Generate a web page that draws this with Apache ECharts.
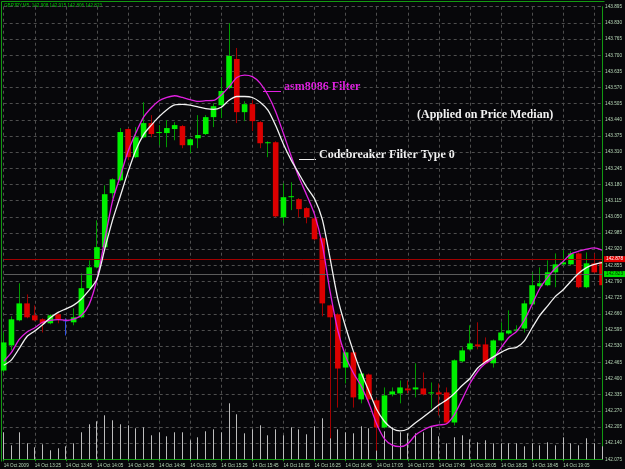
<!DOCTYPE html>
<html><head><meta charset="utf-8">
<script src="https://cdn.jsdelivr.net/npm/echarts@6/dist/echarts.min.js"></script>
<style>html,body{margin:0;padding:0;background:#07070a;}#chart{width:625px;height:469px;}</style>
</head><body><div id="chart"></div>
<script>
const SYMBOL = "GBPJPY,M5";
const HEADER_OHLC = [142.908, 142.915, 142.806, 142.823];
const DAY = "14 Oct";
const YEAR = "2009";
const times = ["13:05","13:10","13:15","13:20","13:25","13:30","13:35","13:40","13:45","13:50","13:55",
 "14:00","14:05","14:10","14:15","14:20","14:25","14:30","14:35","14:40","14:45","14:50","14:55",
 "15:00","15:05","15:10","15:15","15:20","15:25","15:30","15:35","15:40","15:45","15:50","15:55",
 "16:00","16:05","16:10","16:15","16:20","16:25","16:30","16:35","16:40","16:45","16:50","16:55",
 "17:00","17:05","17:10","17:15","17:20","17:25","17:30","17:35","17:40","17:45","17:50","17:55",
 "18:00","18:05","18:10","18:15","18:20","18:25","18:30","18:35","18:40","18:45","18:50","18:55",
 "19:00","19:05","19:10","19:15","19:20","19:25","19:30"];
const open = [142.432,142.533,142.634,142.702,142.654,142.638,142.622,142.658,142.634,142.626,
 142.646,142.763,142.847,142.928,143.145,143.197,143.403,143.290,143.370,143.427,
 143.387,143.387,143.403,143.415,143.338,143.366,143.383,143.451,143.499,143.568,
 143.685,143.471,143.503,143.431,143.346,143.350,143.048,143.129,143.121,143.085,
 143.044,142.964,142.694,142.658,142.444,142.505,142.316,142.416,142.312,142.203,
 142.336,142.340,142.360,142.356,142.360,142.340,142.344,142.344,142.223,142.469,
 142.517,142.537,142.537,142.461,142.553,142.581,142.593,142.601,142.698,142.771,
 142.775,142.827,142.859,142.859,142.903,142.767,142.863,142.871];
const close = [142.545,142.638,142.702,142.646,142.634,142.622,142.654,142.638,142.634,142.646,
 142.763,142.847,142.928,143.141,143.201,143.391,143.290,143.370,143.427,143.383,
 143.391,143.407,143.419,143.338,143.362,143.379,143.451,143.495,143.556,143.697,
 143.471,143.503,143.435,143.346,143.350,143.052,143.129,143.133,143.081,143.048,
 142.960,142.702,142.646,142.440,142.505,142.324,142.420,142.316,142.203,142.332,
 142.348,142.364,142.352,142.364,142.336,142.344,142.336,142.223,142.473,142.513,
 142.541,142.529,142.461,142.553,142.585,142.593,142.597,142.702,142.775,142.783,
 142.827,142.859,142.867,142.903,142.767,142.863,142.827,142.775];
const high = [142.585,142.650,142.783,142.738,142.694,142.642,142.658,142.662,142.642,142.682,
 142.823,142.875,143.036,143.177,143.205,143.407,143.407,143.411,143.511,143.459,
 143.419,143.439,143.431,143.419,143.366,143.459,143.459,143.507,143.612,143.829,
 143.729,143.515,143.519,143.435,143.354,143.354,143.185,143.189,143.125,143.089,
 143.048,142.968,142.698,142.662,142.509,142.509,142.424,142.420,142.320,142.364,
 142.364,142.392,142.392,142.461,142.424,142.384,142.380,142.364,142.477,142.525,
 142.614,142.626,142.565,142.557,142.626,142.674,142.614,142.714,142.827,142.847,
 142.875,142.903,142.916,142.912,142.907,142.907,142.903,142.895];
const low = [142.424,142.513,142.630,142.642,142.630,142.585,142.618,142.622,142.573,142.614,
 142.642,142.759,142.843,142.924,143.125,143.193,143.278,143.286,143.366,143.370,
 143.338,143.330,143.358,143.326,143.306,143.326,143.379,143.411,143.447,143.564,
 143.427,143.435,143.395,143.326,143.290,143.048,143.024,143.077,143.048,143.024,
 142.956,142.650,142.159,142.283,142.380,142.283,142.300,142.304,142.110,142.199,
 142.328,142.300,142.340,142.324,142.332,142.279,142.251,142.219,142.211,142.465,
 142.513,142.517,142.457,142.444,142.549,142.577,142.589,142.585,142.694,142.767,
 142.771,142.767,142.855,142.855,142.763,142.763,142.823,142.771];
const volume = [135,70,135,80,60,75,45,55,65,80,
 135,175,190,220,195,175,170,155,160,120,
 135,115,135,135,95,110,140,150,135,280,
 225,130,150,170,120,150,120,160,150,125,
 165,205,180,150,135,130,165,155,130,140,
 160,135,130,130,135,160,115,80,110,120,
 100,85,95,80,80,80,80,65,80,70,
 85,70,110,80,70,105,80,65];
const asmFilter = [142.469,142.505,142.557,142.587,142.604,142.626,142.634,142.637,142.634,142.639,
 142.654,142.698,142.799,142.956,143.113,143.213,143.313,143.387,143.451,143.489,
 143.517,143.530,143.537,143.530,143.521,143.514,143.517,143.518,143.540,143.573,
 143.610,143.620,143.614,143.588,143.540,143.473,143.385,143.294,143.209,143.137,
 143.060,142.938,142.750,142.593,142.489,142.422,142.370,142.300,142.217,142.157,
 142.132,142.126,142.137,142.173,142.193,142.207,142.213,142.218,142.255,142.316,
 142.380,142.428,142.461,142.481,142.523,142.565,142.589,142.634,142.698,142.763,
 142.807,142.843,142.871,142.901,142.912,142.920,142.925,142.916];
const codebreaker = [142.453,142.475,142.521,142.569,142.591,142.616,142.644,142.666,142.680,142.695,
 142.720,142.755,142.799,142.920,143.036,143.133,143.231,143.318,143.381,143.419,
 143.453,143.481,143.500,143.502,143.499,143.492,143.485,143.482,143.491,143.519,
 143.534,143.534,143.530,143.511,143.479,143.417,143.342,143.278,143.223,143.169,
 143.123,143.040,142.883,142.720,142.607,142.509,142.424,142.349,142.275,142.227,
 142.199,142.189,142.197,142.222,142.245,142.269,142.294,142.314,142.340,142.372,
 142.400,142.442,142.467,142.487,142.505,142.520,142.525,142.551,142.604,142.654,
 142.692,142.730,142.757,142.791,142.823,142.846,142.859,142.866];
const BID = 142.823;
const ASK = 142.878;
const PRICE_MIN = 142.075, PRICE_MAX = 143.895, PRICE_STEP = 0.065;
const VOL_MAX = 2263;

const GREEN_AXIS = '#129a12';
const LABEL = '#b8d8b8';
const GRID = '#4e4e4e';

const candleData = times.map((t, i) => [i, open[i], close[i], low[i], high[i]]);

function renderCandle(params, api) {
  const i = api.value(0);
  const o = api.value(1), c = api.value(2), l = api.value(3), h = api.value(4);
  const pO = api.coord([i, o]), pC = api.coord([i, c]);
  const pL = api.coord([i, l]), pH = api.coord([i, h]);
  const cs = params.coordSys;
  const rightEdge = cs.x + cs.width;
  const cx = pO[0];
  const w = 5.6;
  let body, wick;
  if (c > o) { body = '#00f000'; wick = '#009a00'; }
  else if (c < o) { body = '#dc0000'; wick = '#a00000'; }
  else { body = '#3050e0'; wick = '#3050e0'; }
  const clip = { x: 0, y: 0, width: rightEdge, height: api.getHeight() };
  const top = Math.min(pO[1], pC[1]);
  const hgt = Math.max(Math.abs(pO[1] - pC[1]), 1);
  const rect = echarts.graphic.clipRectByRect({ x: cx - w / 2, y: top, width: w, height: hgt }, clip);
  const children = [];
  const wx = Math.floor(cx) + 0.5;
  if (wx <= rightEdge) {
    children.push({ type: 'line', shape: { x1: wx, y1: pH[1], x2: wx, y2: pL[1] }, style: { stroke: wick, lineWidth: 1 } });
  }
  if (rect) children.push({ type: 'rect', shape: rect, style: { fill: body } });
  return { type: 'group', children };
}

function renderVolume(params, api) {
  const p = api.coord([api.value(0), api.value(1)]);
  const base = api.coord([api.value(0), 0]);
  const x = Math.floor(p[0]) + 0.5;
  return { type: 'line', shape: { x1: x, y1: p[1], x2: x, y2: base[1] }, style: { stroke: '#bdbdbd', lineWidth: 1 } };
}

const chart = echarts.init(document.getElementById('chart'), null, { renderer: 'canvas' });
const tiny = { fontFamily: 'Liberation Sans', color: LABEL };

chart.setOption({
  animation: false,
  backgroundColor: '#07070a',
  grid: { left: 3.7, right: 20.5, top: 6.7, bottom: 9.7 },
  xAxis: {
    type: 'category', data: times, boundaryGap: false,
    offset: 2,
    axisLine: { show: true, lineStyle: { color: GREEN_AXIS, width: 1 } },
    axisTick: { show: true, interval: 3, length: 2, lineStyle: { color: GREEN_AXIS } },
    axisLabel: Object.assign({}, tiny, {
      interval: 3, align: 'left', margin: 2, fontSize: 4.6,
      showMinLabel: true, showMaxLabel: false,
      formatter: (v, idx) => idx === 0 ? DAY + ' ' + YEAR : DAY + ' ' + v
    }),
    splitLine: { show: true, interval: 3, lineStyle: { color: GRID, type: [3, 3], width: 1 } }
  },
  yAxis: [{
    type: 'value', position: 'right', scale: true,
    min: PRICE_MIN, max: PRICE_MAX + 0.0001, interval: PRICE_STEP,
    axisLine: { show: true, lineStyle: { color: GREEN_AXIS, width: 1 } },
    axisTick: { show: false },
    axisLabel: Object.assign({}, tiny, { fontSize: 4.7, margin: 3, showMaxLabel: true, formatter: v => v.toFixed(3) }),
    splitLine: { show: true, lineStyle: { color: GRID, type: [3, 3], width: 1 } }
  }, {
    type: 'value', min: 0, max: VOL_MAX, show: false, splitLine: { show: false }
  }],
  graphic: [
    { type: 'line', shape: { x1: 1.5, y1: 1.5, x2: 604.5, y2: 1.5 }, style: { stroke: GREEN_AXIS, lineWidth: 1 } },
    { type: 'line', shape: { x1: 1.5, y1: 1.5, x2: 1.5, y2: 461.5 }, style: { stroke: GREEN_AXIS, lineWidth: 1 } },
    { type: 'text', x: 4, y: 5.5, style: { text: SYMBOL + '  ' + HEADER_OHLC.map(v => v.toFixed(3)).join(' '), fill: '#00c400', fontSize: 4.6, fontFamily: 'Liberation Sans', verticalAlign: 'middle' } },
    { type: 'line', shape: { x1: 263, y1: 91.5, x2: 281, y2: 91.5 }, style: { stroke: '#e020e0', lineWidth: 1 } },
    { type: 'text', x: 284, y: 87, style: { text: 'asm8086 Filter', fill: '#e020e0', fontSize: 12, fontWeight: 'bold', fontFamily: 'Liberation Serif', verticalAlign: 'middle' } },
    { type: 'line', shape: { x1: 299, y1: 159.5, x2: 316, y2: 159.5 }, style: { stroke: '#f2f2f2', lineWidth: 1 } },
    { type: 'text', x: 319, y: 154.5, style: { text: 'Codebreaker Filter Type 0', fill: '#f2f2f2', fontSize: 12, fontWeight: 'bold', fontFamily: 'Liberation Serif', verticalAlign: 'middle' } },
    { type: 'text', x: 417, y: 114.5, style: { text: '(Applied on Price Median)', fill: '#f2f2f2', fontSize: 12, fontWeight: 'bold', fontFamily: 'Liberation Serif', verticalAlign: 'middle' } }
  ],
  series: [
    {
      name: 'Volume', type: 'custom', xAxisIndex: 0, yAxisIndex: 1,
      data: volume.map((v, i) => [i, v]), encode: { x: 0, y: 1 },
      renderItem: renderVolume, z: 1, silent: true, clip: false
    },
    {
      name: 'Price lines', type: 'line', yAxisIndex: 0, data: times.map(() => null), z: 2, silent: true,
      markLine: {
        symbol: 'none', silent: true, animation: false,
        data: [
          { yAxis: ASK, lineStyle: { color: '#a00000', width: 1, type: 'solid' },
            label: { show: true, position: 'end', distance: 2, formatter: ASK.toFixed(3), backgroundColor: '#e00000', color: '#ffffff', fontSize: 4.7, fontFamily: 'Liberation Sans', padding: [1, 2, 0, 2] } },
          { yAxis: BID, lineStyle: { color: '#5c5c5c', width: 1, type: 'solid' },
            label: { show: true, position: 'end', distance: 2, formatter: BID.toFixed(3), backgroundColor: '#00e000', color: '#003000', fontSize: 4.7, fontFamily: 'Liberation Sans', padding: [1, 2, 0, 2] } }
        ]
      }
    },
    {
      name: 'Candles', type: 'custom', renderItem: renderCandle, data: candleData,
      encode: { x: 0, y: [1, 2, 3, 4] }, clip: false, z: 3, silent: true
    },
    {
      name: 'asm8086 Filter', type: 'line', data: asmFilter, yAxisIndex: 0, showSymbol: false, smooth: 0.25,
      lineStyle: { color: '#e020e0', width: 1.3 }, itemStyle: { color: '#e020e0' }, z: 5, silent: true
    },
    {
      name: 'Codebreaker Filter Type 0', type: 'line', data: codebreaker, yAxisIndex: 0, showSymbol: false, smooth: 0.25,
      lineStyle: { color: '#f2f2f2', width: 1.3 }, itemStyle: { color: '#f2f2f2' }, z: 5, silent: true
    }
  ]
});
</script>
</body></html>
